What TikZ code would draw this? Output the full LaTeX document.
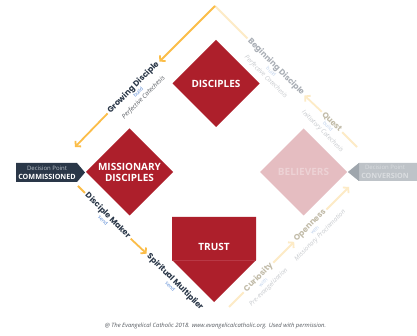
\documentclass[tikz,border=0pt]{standalone}
\usepackage{fontspec}
\setmainfont{Open Sans}
\newfontfamily\popp{Poppins}
\usetikzlibrary{arrows.meta}
\definecolor{cred}{HTML}{AD1F2B}
\definecolor{credline}{HTML}{B93845}
\definecolor{cpink}{HTML}{E5BDC1}
\definecolor{cpinktext}{HTML}{EDD2D5}
\definecolor{corange}{HTML}{FBBD48}
\definecolor{cpale}{HTML}{FDEBC6}
\definecolor{cnavy}{HTML}{2A3748}
\definecolor{cgrayA}{HTML}{BEC3C8}
\definecolor{cgrayB}{HTML}{9FA6AD}
\definecolor{cgrayT}{HTML}{DADDE0}
\definecolor{cblue}{HTML}{4A7FD0}
\definecolor{cpblue}{HTML}{BCD0EC}
\definecolor{csubgray}{HTML}{555A60}
\definecolor{cpsubgray}{HTML}{C6C9CD}
\definecolor{cfadeA}{HTML}{A9AEB5}
\definecolor{cfadeB}{HTML}{C2BCA9}
\definecolor{ccomgray}{HTML}{B9C0C8}
\newcommand\sublab[4]{{\fontsize{5}{5}\selectfont\color{#1}#2}\\{\fontsize{6.3}{6.5}\selectfont\color{#3}\itshape #4}}
\tikzset{
  mainlab/.style={font=\popp\bfseries\fontsize{8}{8}\selectfont, inner xsep=2pt, inner ysep=0pt},
  sublab/.style={align=center, inner sep=0pt, anchor=north, font=\fontsize{5}{7.5}\selectfont},
  dtext/.style={text=white, font=\bfseries\fontsize{10}{11}\selectfont, align=center, inner sep=0pt},
  actline/.style={draw=corange, line width=1.8pt},
  fadline/.style={draw=cpale, line width=1.8pt},
  arr/.style={-{Straight Barb[length=3.5pt,width=8pt]}}
}
\begin{document}
\begin{tikzpicture}[x=1pt,y=-1pt]
\useasboundingbox[fill=white] (0,0) rectangle (417,336);
% shapes
\coordinate (dis) at (216,83.5);
\coordinate (mis) at (129.5,172);
\coordinate (bel) at (303.5,172);
\fill[cred, shift={(dis)}] (0,-43.5) -- (43.5,0) -- (0,43.5) -- (-43.5,0) -- cycle;
\fill[cred, shift={(mis)}] (0,-43.5) -- (43.5,0) -- (0,43.5) -- (-43.5,0) -- cycle;
\fill[cpink, shift={(bel)}] (0,-43.5) -- (43.5,0) -- (0,43.5) -- (-43.5,0) -- cycle;
\fill[cred] (172,217) -- (256,217) -- (256,260) -- (214,302) -- (172,260) -- cycle;
\draw[credline, line width=0.5pt] (172,260) -- (256,260);
\node[dtext] (dist) at (dis) {DISCIPLES};
\node[dtext] (mist) at (mis) {MISSIONARY\\DISCIPLES};
\node[dtext, text=cpinktext] (belt) at (bel) {BELIEVERS};
\node[dtext] (trt) at (214,247) {TRUST};
% decision tags
\fill[cnavy] (16,163) -- (77,163) -- (85,172.5) -- (77,182) -- (16,182) -- cycle;
\node[inner sep=0pt, text=ccomgray, font=\fontsize{6}{6}\selectfont] (com1) at (47,168) {Decision Point};
\node[inner sep=0pt, text=white, font=\bfseries\fontsize{7.2}{8}\selectfont] (com2) at (47,177) {COMMISSIONED};
\fill[cgrayA] (348,172) -- (359,163) -- (417,163) -- (417,181) -- (359,181) -- cycle;
\fill[cgrayB] (348,172) -- (359,163) -- (359,181) -- cycle;
\node[inner sep=0pt, text=cgrayT, font=\fontsize{6}{6}\selectfont] (con1) at (385,167.5) {Decision Point};
\node[inner sep=0pt, text=cgrayT, font=\bfseries\fontsize{7.2}{8}\selectfont] (con2) at (385,176) {CONVERSION};
% path labels
\coordinate (T) at (215,6);
\coordinate (L1) at (75,147);
\coordinate (L2) at (78,186);
\coordinate (R1) at (357,147);
\coordinate (R2) at (349,187);
\coordinate (B2) at (229,307);
\node[mainlab, rotate=45, text=cnavy] (gd) at (133.5,87.5) {Growing Disciple};
\node[sublab, rotate=45] (gds) at (gd.south) {\sublab{cblue}{build}{csubgray}{Perfective Catechesis}};
\node[mainlab, rotate=-45, text=cfadeA] (bd) at (276,67) {Beginning Disciple};
\node[sublab, rotate=-45] (bds) at (bd.south) {\sublab{cpblue}{build}{cpsubgray}{Perfective Catechesis}};
\node[mainlab, rotate=-45, text=cfadeB] (qu) at (332,122) {Quest};
\node[sublab, rotate=-45] (qus) at (qu.south) {\sublab{cpblue}{build}{cpsubgray}{Initiatory Catechesis}};
\node[mainlab, rotate=45, text=cfadeB] (cu) at (258.5,277.5) {Curiosity};
\node[sublab, rotate=45] (cus) at (cu.south) {\sublab{cpblue}{with}{cpsubgray}{Pre-evangelization}};
\node[mainlab, rotate=45, text=cfadeB] (op) at (310.3,225.7) {Openness};
\node[sublab, rotate=45] (ops) at (op.south) {\sublab{cpblue}{with}{cpsubgray}{Missionary Proclamation}};
\node[mainlab, rotate=-45, text=cnavy] (dm) at (107.8,215.8) {Disciple Maker};
\node[sublab, rotate=-45, text=cblue] (dms) at (dm.south) {send};
\node[mainlab, rotate=-45, text=cnavy] (sm) at (175,282) {Spiritual Multiplier};
\node[sublab, rotate=-45, text=cblue] (sms) at (sm.south) {send};
% connectors
\draw[fadline] (bd.west) -- (T);
\draw[actline, arr] (T) -- (gd.east);
\draw[actline, arr] (gd.west) -- (L1);
\draw[fadline] (R1) -- (qu.east);
\draw[fadline, arr] (qu.west) -- (bd.east);
\draw[fadline] (B2) -- (cu.west);
\draw[fadline, arr] (cu.east) -- (op.west);
\draw[fadline, arr] (op.east) -- (R2);
\draw[actline] (L2) -- (dm.west);
\draw[actline, arr] (dm.east) -- (sm.west);
% credit
\node[inner sep=0pt, text=csubgray, font=\itshape\fontsize{5.9}{6}\selectfont] (cred) at (215.5,326) {@ The Evangelical Catholic 2018. www.evangelicalcatholic.org. Used with permission.};
\end{tikzpicture}
\end{document}
